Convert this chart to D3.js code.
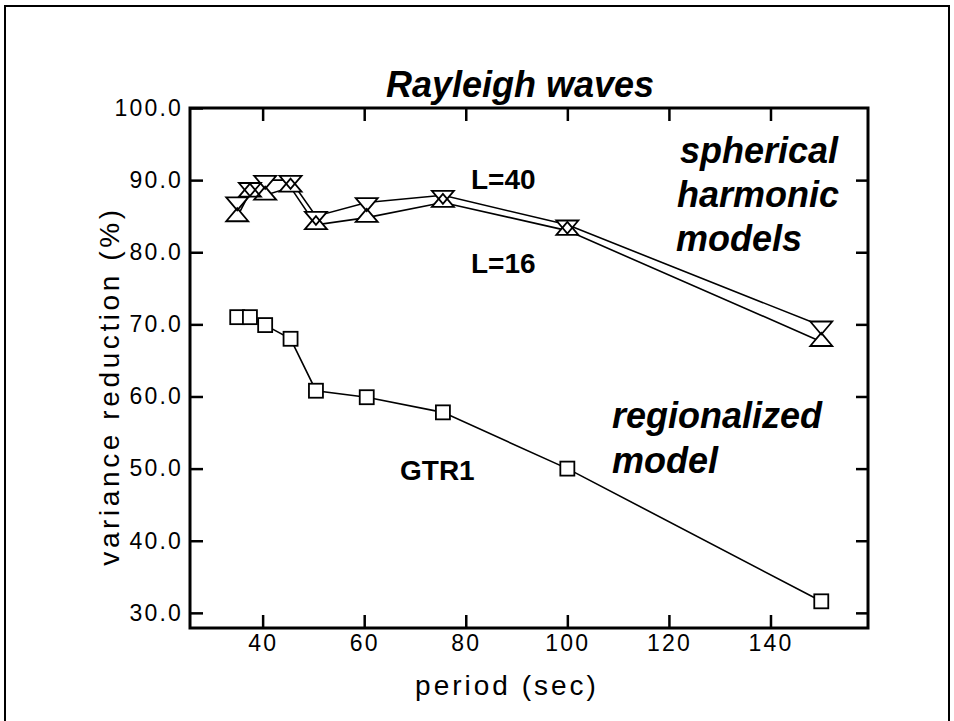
<!DOCTYPE html>
<html>
<head>
  <title>Rayleigh waves - variance reduction</title>
  <script src="https://d3js.org/d3.v7.min.js"></script>
  <style>
    body { margin: 0; background: #fff; }
    text { font-family: "Liberation Sans", Arial, Helvetica, sans-serif; fill: #000; }
  </style>
</head>
<body>
<script type="text/javascript">

  // data
  var periods = [35, 37.5, 40.5, 45.5, 50.5, 60.5, 75.5, 100, 150];
  var L40 = [87.0, 89.0, 90.0, 90.0, 85.0, 86.9, 87.9, 83.8, 69.8];
  var L16 = [84.9, 88.3, 87.9, 89.0, 83.8, 84.8, 86.9, 83.0, 67.6];
  var GTR1 = [71.0, 71.0, 69.9, 68.0, 60.8, 59.9, 57.8, 50.0, 31.6];
  var xTicks = [40, 60, 80, 100, 120, 140];
  var yTicks = [30, 40, 50, 60, 70, 80, 90, 100];

  var w = 954;
  var h = 721;
  var plotL = 190, plotR = 868, plotT = 108, plotB = 628;

  var svg = d3.select("body").append("svg")
          .attr("width", w)
          .attr("height", h);

  // outer frame of the slide
  svg.append("rect")
      .attr("x", 5).attr("y", 6)
      .attr("width", 944).attr("height", 740)
      .attr("fill", "none").attr("stroke", "#000").attr("stroke-width", 2);

  var x = d3.scaleLinear().domain([25.7, 159.2]).range([plotL, plotR]);
  var y = d3.scaleLinear().domain([27.9, 100]).range([plotB, plotT]);

  //axes, ticks pointing inward
  svg.append("g")
      .attr("transform", "translate(" + plotL + ",0)")
      .call(d3.axisLeft(y).tickValues(yTicks).tickSize(-13).tickPadding(7).tickFormat(d3.format(".1f")));
  svg.append("g")
      .attr("transform", "translate(" + plotR + ",0)")
      .call(d3.axisRight(y).tickValues(yTicks.slice(0, 7)).tickSize(-12).tickFormat(""));
  svg.append("g")
      .attr("transform", "translate(0," + plotB + ")")
      .call(d3.axisBottom(x).tickValues(xTicks).tickSize(-13).tickPadding(7));
  svg.append("g")
      .attr("transform", "translate(0," + plotT + ")")
      .call(d3.axisTop(x).tickValues(xTicks).tickSize(-13).tickFormat(""));

  svg.selectAll(".domain").remove();
  svg.selectAll(".tick line").attr("stroke", "#000").attr("stroke-width", 2.5);
  svg.selectAll(".tick text")
      .style("font-size", "23px")
      .style("letter-spacing", "2.2px")
      .style("font-family", "'Liberation Sans', Arial, sans-serif")
      .attr("fill", "#000");

  svg.append("rect")
      .attr("x", plotL).attr("y", plotT)
      .attr("width", plotR - plotL).attr("height", plotB - plotT)
      .attr("fill", "none").attr("stroke", "#000").attr("stroke-width", 3);

  // lines
  var line = d3.line()
      .x(function(d, i){ return x(periods[i]); })
      .y(function(d){ return y(d); });

  [L40, L16, GTR1].forEach(function(s){
    svg.append("path")
        .attr("d", line(s))
        .attr("fill", "none")
        .attr("stroke", "#000")
        .attr("stroke-width", 1.6);
  });

  // triangle markers: down for L=40, up for L=16 (they make the hourglass)
  var tw = 22, th = 13;
  function tri(cx, cy, down){
    if(down)
      return "M" + (cx - tw/2) + "," + (cy - th/3) + "L" + (cx + tw/2) + "," + (cy - th/3) + "L" + cx + "," + (cy + 2*th/3) + "Z";
    return "M" + (cx - tw/2) + "," + (cy + th/3) + "L" + (cx + tw/2) + "," + (cy + th/3) + "L" + cx + "," + (cy - 2*th/3) + "Z";
  }
  var tris = [];
  periods.forEach(function(p, i){
    tris.push(tri(x(p), y(L40[i]), true));
    tris.push(tri(x(p), y(L16[i]), false));
  });
  svg.selectAll("path.fillTri")
      .data(tris).enter().append("path")
      .attr("class", "fillTri")
      .attr("d", function(d){ return d; })
      .attr("fill", "#fff").attr("stroke", "none");
  svg.selectAll("path.edgeTri")
      .data(tris).enter().append("path")
      .attr("class", "edgeTri")
      .attr("d", function(d){ return d; })
      .attr("fill", "none").attr("stroke", "#000").attr("stroke-width", 1.8)
      .attr("stroke-linejoin", "miter");

  // squares for GTR1
  var sq = 14;
  svg.selectAll("rect.sq")
      .data(GTR1).enter().append("rect")
      .attr("class", "sq")
      .attr("x", function(d, i){ return x(periods[i]) - sq/2; })
      .attr("y", function(d){ return y(d) - sq/2; })
      .attr("width", sq).attr("height", sq)
      .attr("fill", "#fff").attr("stroke", "#000").attr("stroke-width", 1.8);

  // texts
  svg.append("text")
      .attr("x", 520).attr("y", 97)
      .attr("text-anchor", "middle")
      .style("font-size", "36px").style("font-weight", "bold").style("font-style", "italic")
      .text("Rayleigh waves");

  svg.append("text")
      .attr("x", 507).attr("y", 695)
      .attr("text-anchor", "middle")
      .style("font-size", "28px").style("letter-spacing", "3px")
      .text("period  (sec)");

  svg.append("text")
      .attr("transform", "translate(119,386) rotate(-90)")
      .attr("text-anchor", "middle")
      .style("font-size", "28px").style("letter-spacing", "3.6px")
      .text("variance  reduction  (%)");

  var bold = [
    {t: "L=40", x: 471, y: 189},
    {t: "L=16", x: 471, y: 273},
    {t: "GTR1", x: 400, y: 480}
  ];
  bold.forEach(function(b){
    svg.append("text")
        .attr("x", b.x).attr("y", b.y)
        .style("font-size", "28px").style("font-weight", "bold")
        .text(b.t);
  });

  var ital = [
    {t: "spherical", x: 680, y: 163},
    {t: "harmonic", x: 677, y: 207},
    {t: "models", x: 676, y: 251},
    {t: "regionalized", x: 612, y: 428},
    {t: "model", x: 612, y: 473}
  ];
  ital.forEach(function(b){
    svg.append("text")
        .attr("x", b.x).attr("y", b.y)
        .style("font-size", "36px").style("font-weight", "bold").style("font-style", "italic")
        .text(b.t);
  });

</script>
</body>
</html>
